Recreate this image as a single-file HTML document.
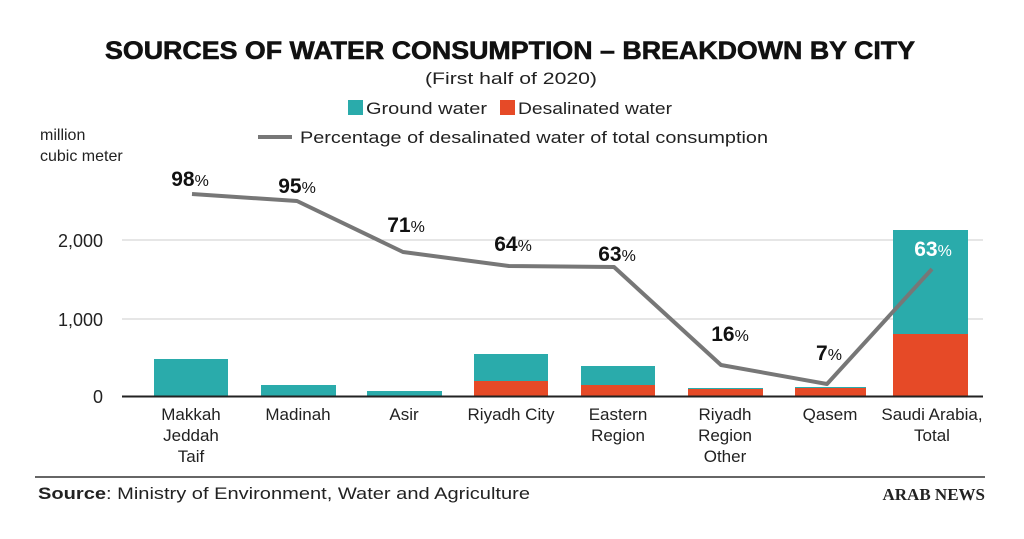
<!DOCTYPE html>
<html><head><style>
body{margin:0;background:#fff;}
svg text{font-family:"Liberation Sans",sans-serif;}
</style></head><body>
<svg width="1024" height="534" viewBox="0 0 1024 534" xmlns="http://www.w3.org/2000/svg">
<rect width="1024" height="534" fill="#fff"/>
<text x="105" y="59" font-size="25" font-weight="bold" fill="#111" textLength="810" lengthAdjust="spacingAndGlyphs" stroke="#111" stroke-width="0.6">SOURCES OF WATER CONSUMPTION – BREAKDOWN BY CITY</text>
<text x="425" y="84" font-size="17" fill="#222" textLength="172" lengthAdjust="spacingAndGlyphs">(First half of 2020)</text>
<rect x="348" y="100" width="15" height="15" fill="#2aabab"/>
<text x="366" y="114" font-size="17" fill="#222" textLength="121" lengthAdjust="spacingAndGlyphs">Ground water</text>
<rect x="500" y="100" width="15" height="15" fill="#e64a27"/>
<text x="518" y="114" font-size="17" fill="#222" textLength="154" lengthAdjust="spacingAndGlyphs">Desalinated water</text>
<line x1="258" y1="137" x2="292" y2="137" stroke="#777" stroke-width="4"/>
<text x="300" y="143" font-size="17" fill="#222" textLength="468" lengthAdjust="spacingAndGlyphs">Percentage of desalinated water of total consumption</text>
<text x="40" y="140" font-size="16" fill="#222">million</text>
<text x="40" y="161" font-size="16" fill="#222">cubic meter</text>
<line x1="122" y1="240" x2="983" y2="240" stroke="#ccc" stroke-width="1"/>
<line x1="122" y1="319" x2="983" y2="319" stroke="#ccc" stroke-width="1"/>
<text x="103" y="247" text-anchor="end" font-size="18" fill="#222">2,000</text>
<text x="103" y="326" text-anchor="end" font-size="18" fill="#222">1,000</text>
<text x="103" y="403" text-anchor="end" font-size="18" fill="#222">0</text>
<g fill="#2aabab">
<rect x="154" y="359" width="74" height="37"/>
<rect x="261" y="385" width="75" height="11"/>
<rect x="367" y="391" width="75" height="5"/>
<rect x="474" y="354" width="74" height="42"/>
<rect x="581" y="366" width="74" height="30"/>
<rect x="688" y="388" width="75" height="8"/>
<rect x="795" y="387" width="71" height="9"/>
<rect x="893" y="230" width="75" height="166"/>
</g>
<g fill="#e64a27">
<rect x="474" y="381" width="74" height="15"/>
<rect x="581" y="385" width="74" height="11"/>
<rect x="688" y="389" width="75" height="7"/>
<rect x="795" y="388" width="71" height="8"/>
<rect x="893" y="334" width="75" height="62"/>
</g>
<line x1="122" y1="396.5" x2="983" y2="396.5" stroke="#222" stroke-width="2"/>
<polyline points="192,194 297,201 403,252 509,266 614,267 721,365 827,384 932,269" fill="none" stroke="#777" stroke-width="4" stroke-linejoin="round"/>
<g font-size="21" font-weight="bold" fill="#111" text-anchor="middle">
<text x="190" y="186">98<tspan font-size="16" font-weight="normal">%</tspan></text>
<text x="297" y="193">95<tspan font-size="16" font-weight="normal">%</tspan></text>
<text x="406" y="232">71<tspan font-size="16" font-weight="normal">%</tspan></text>
<text x="513" y="251">64<tspan font-size="16" font-weight="normal">%</tspan></text>
<text x="617" y="261">63<tspan font-size="16" font-weight="normal">%</tspan></text>
<text x="730" y="341">16<tspan font-size="16" font-weight="normal">%</tspan></text>
<text x="829" y="360">7<tspan font-size="16" font-weight="normal">%</tspan></text>
<text x="933" y="256" fill="#fff">63<tspan font-size="16" font-weight="normal">%</tspan></text>
</g>
<g font-size="17" fill="#222" text-anchor="middle">
<text x="191" y="420">Makkah</text><text x="191" y="441">Jeddah</text><text x="191" y="462">Taif</text>
<text x="298" y="420">Madinah</text>
<text x="404" y="420">Asir</text>
<text x="511" y="420">Riyadh City</text>
<text x="618" y="420">Eastern</text><text x="618" y="441">Region</text>
<text x="725" y="420">Riyadh</text><text x="725" y="441">Region</text><text x="725" y="462">Other</text>
<text x="830" y="420">Qasem</text>
<text x="932" y="420">Saudi Arabia,</text><text x="932" y="441">Total</text>
</g>
<line x1="35" y1="477" x2="985" y2="477" stroke="#333" stroke-width="1.5"/>
<text x="38" y="499" font-size="17" fill="#222" textLength="492" lengthAdjust="spacingAndGlyphs"><tspan font-weight="bold">Source</tspan>: Ministry of Environment, Water and Agriculture</text>
<text x="985" y="500" text-anchor="end" font-size="17" font-weight="bold" fill="#222" style="font-family:'Liberation Serif',serif">ARAB NEWS</text>
</svg>
</body></html>
